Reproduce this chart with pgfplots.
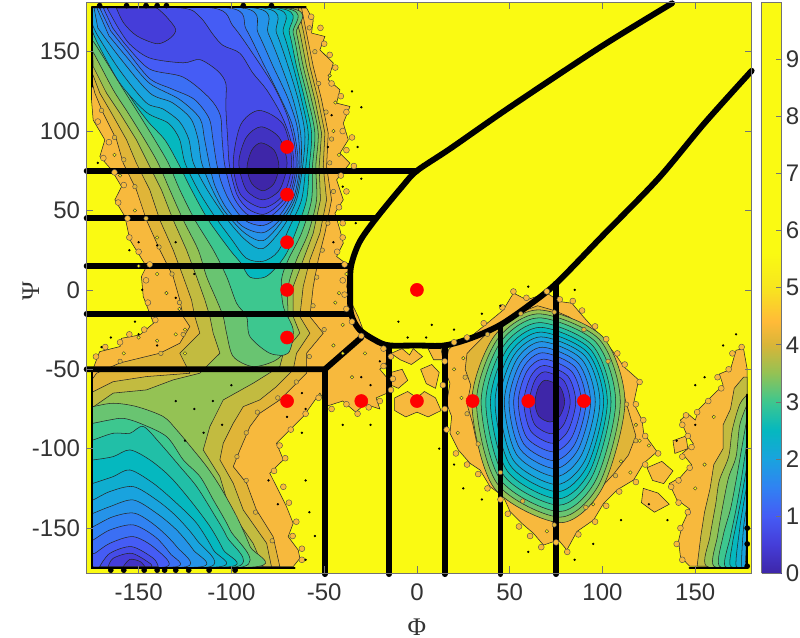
\documentclass[border=0pt]{standalone}
\usepackage{pgfplots}
\usepackage{fontspec}
\pgfplotsset{compat=1.18}
\setmainfont{Liberation Sans}
\newfontfamily\serifgreek{Liberation Serif}
\definecolor{L00}{rgb}{.2422,.1504,.6603}
\definecolor{L01}{rgb}{.255,.195,.755}
\definecolor{L02}{rgb}{.27,.24,.85}
\definecolor{L03}{rgb}{.27,.30,.91}
\definecolor{L04}{rgb}{.27,.36,.96}
\definecolor{L05}{rgb}{.23,.435,.955}
\definecolor{L06}{rgb}{.19,.51,.95}
\definecolor{L07}{rgb}{.145,.575,.91}
\definecolor{L08}{rgb}{.10,.64,.87}
\definecolor{L09}{rgb}{.06,.68,.81}
\definecolor{L10}{rgb}{.02,.72,.75}
\definecolor{L11}{rgb}{.13,.75,.655}
\definecolor{L12}{rgb}{.24,.78,.56}
\definecolor{L13}{rgb}{.41,.77,.445}
\definecolor{L14}{rgb}{.58,.76,.33}
\definecolor{L15}{rgb}{.76,.735,.25}
\definecolor{L16}{rgb}{.88,.71,.22}
\definecolor{L17}{rgb}{.97,.725,.24}
\definecolor{YY}{rgb}{.98,.98,.07}
\definecolor{axgray}{rgb}{.45,.45,.45}
\pgfplotsset{
  colormap={cb}{rgb(0pt)=(.2422,.1504,.6603); rgb(5pt)=(.27,.24,.85); rgb(10pt)=(.27,.36,.96);
    rgb(15pt)=(.19,.51,.95); rgb(20pt)=(.10,.64,.87); rgb(25pt)=(.02,.72,.75); rgb(30pt)=(.24,.78,.56);
    rgb(35pt)=(.58,.76,.33); rgb(40pt)=(.85,.71,.22); rgb(44pt)=(1,.73,.22); rgb(50pt)=(.97,.9,.12);
    rgb(56pt)=(.98,.98,.07); rgb(100pt)=(.98,.98,.07)},
  lj/.style={fill=#1,draw=black!85,line width=.4pt,sharp plot},
  ls/.style={fill=#1,draw=black!85,line width=.4pt,smooth},
  lc/.style={fill=#1,draw=black!85,line width=.4pt,smooth cycle},
  mask/.style={fill=YY,draw=none},
  thickb/.style={black,line width=4.4pt,line cap=round,line join=round},
  edgeb/.style={black,line width=1.8pt,line cap=round},
  frillA/.style={only marks,mark=*,mark size=2.2pt,mark options={fill=L17,draw=black!70,line width=.3pt}},
  frillB/.style={only marks,mark=*,mark size=1.7pt,mark options={fill=L16,draw=black!70,line width=.3pt}},
}
\begin{document}
\begin{tikzpicture}
\useasboundingbox (0,0) rectangle (600pt,477.75pt);
\begin{axis}[
  at={(65pt,48pt)},anchor=south west,scale only axis,width=498.75pt,height=427.9pt,
  xmin=-178,xmax=180.4,ymin=-178.3,ymax=181,clip=false,axis on top,
  axis background/.style={fill=YY},
  axis line style={draw=axgray,line width=.7pt},
  tick style={draw=axgray,line width=.5pt},
  major tick length=5pt,tick align=inside,
  xtick={-150,-100,-50,0,50,100,150},ytick={-150,-100,-50,0,50,100,150},
  /pgf/number format/assume math mode=true,
  tick label style={font=\fontsize{18}{20}\selectfont,text=black!80},
  xticklabel style={yshift=-4.5pt},
  yticklabel style={xshift=-1.5pt},
  xlabel={\serifgreek\fontsize{19}{22}\selectfont Φ},
  ylabel={\serifgreek\fontsize{19}{22}\selectfont Ψ},
  xlabel style={at={(axis description cs:.4967,-.0947)},anchor=center,inner sep=0pt,text=black!80},
  ylabel style={at={(axis description cs:-.0838,.494)},anchor=center,inner sep=0pt,rotate=0,text=black!80},
]
% ---- basin upper left + lower left, outer bands
\addplot[lj=L17] coordinates {(-175.4,177.5)(-59.5,177.5)(-55.9,170)(-56.8,161.7)(-49.6,159.6)(-52.3,151.2)(-45.1,142.8)(-47.8,132.3)(-41.5,126)(-43.3,117.6)(-36.1,115.5)(-39.7,105)(-37,94.5)(-41.5,86.1)(-36.1,79.8)(-43.3,69.3)(-39.7,56.7)(-44.2,48.3)(-41.5,37.8)(-39.7,29.4)(-43.3,21)(-36.1,14.7)(-37.9,2.1)(-34.3,-10.5)(-31.6,-17)(-29,-25.2)(-21.8,-31.5)(-22,-34)(-15,-36)(-16,-45)(-20,-50)(-15,-57)(-16,-65)(-22,-68)(-20,-75)(-28,-72)(-33,-77)(-40,-70)(-48,-73)(-52.3,-65)(-61.3,-79.8)(-70.3,-90.3)(-75.7,-96.6)(-72,-107)(-79.3,-115.5)(-73.9,-128)(-70.3,-136.5)(-66.7,-147)(-69.4,-155.4)(-64,-163.8)(-63.1,-169)(-66.7,-174.3)(-176.3,-174.3)(-175.4,-52.5)(-172.7,-44)(-171,-38.9)(-160,-35.7)(-159.2,-30.5)(-149.4,-28.4)(-142,-21)(-147.5,-4.2)(-148.5,8.4)(-145.8,14.7)(-154.7,31.5)(-157.4,46.2)(-162.8,56.7)(-159.2,65)(-164.6,75.6)(-170.9,84)(-168.2,94.5)(-174.5,107)(-175.4,119.7)(-175.4,128)} --cycle;
\addplot[frillA] coordinates {(-57,172)(-52,165)(-50,155)(-47,148)(-44,140)(-46,130)(-41,122)(-38,112)(-40,100)(-35,96)(-38,88)(-34,78)(-41,72)(-38,62)(-42,52)(-40,42)(-40,33)(-43,24)(-39,16)(-40,6)(-39,-3)(-38,-12)(-35,-20)(-30,-29)(-18,-37)(-14,-42)(-18,-48)(-13,-56)(-14,-63)(-20,-70)(-26,-74)(-32,-78)(-38,-72)(-46,-75)(-53,-68)(-60,-78)(-68,-88)(-74,-98)(-71,-106)(-77,-114)(-72,-124)(-69,-134)(-65,-146)(-67,-155)(-62,-163)(-62,-170)(-173,-42)(-168,-36)(-160,-33)(-155,-28)(-147,-25)(-141,-19)(-145,-8)(-146,6)(-144,16)(-150,24)(-155,33)(-156,45)(-161,55)(-158,66)(-163,74)(-169,83)(-166,93)(-172,106)};
\addplot[frillB] coordinates {(-58,165)(-55,150)(-53,130)(-49,112)(-46,95)(-47,80)(-45,62)(-48,42)(-51,25)(-54,8)(-56,-10)(-50,-25)(-58,-42)(-65,-58)(-75,-68)(-86,-77)(-92,-90)(-97,-105)(-92,-120)(-87,-140)(-78,-158)(-160,-45)(-138,-40)(-126,-28)(-128,-8)(-132,10)(-139,27)(-146,45)(-152,65)(-158,82)(-163,96)(-170,113)};
\addplot[lj=L16] coordinates {(-175.4,177.5)(-62.2,177.5)(-59.5,161.7)(-55.9,140.7)(-51.4,119.7)(-47.8,98.7)(-48.7,77.7)(-46,56.7)(-49.6,35.7)(-53.2,18.9)(-55.9,2.1)(-57.7,-16.8)(-50.5,-27.3)(-59.5,-39.9)(-59.5,-52.5)(-66.7,-60.9)(-73.9,-69.3)(-84.7,-77.7)(-90,-86.1)(-95.4,-100.8)(-99,-111.3)(-91.8,-121.8)(-86.5,-138.6)(-77.5,-155.4)(-73.9,-174.3)(-176,-174.3)(-176,-58)(-172.7,-52.5)(-160,-46)(-138.6,-39.9)(-127.8,-33.6)(-122.4,-23.1)(-126,-16.8)(-127.8,-6.3)(-131.4,8.4)(-138.6,25.2)(-145.8,44.1)(-151.2,63)(-158.3,79.8)(-161.9,94.5)(-169.1,111.3)(-173.6,123.9)(-175.4,132.3)} --cycle;
\addplot[lj=L15] coordinates {(-175.4,177.5)(-64,177.5)(-61,161.7)(-57.7,140.7)(-53.2,119.7)(-49.6,98.7)(-50.5,77.7)(-48.7,56.7)(-52.3,35.7)(-57.7,18.9)(-61.3,2.1)(-63.1,-16.8)(-57.7,-27.3)(-64.9,-39.9)(-66.7,-50.4)(-75.7,-60.9)(-84.7,-69.3)(-93.6,-73.5)(-99,-84)(-104.4,-96.6)(-106.2,-107)(-99,-121.8)(-93.6,-138.6)(-81,-159.6)(-78.4,-174.3)(-176,-174.3)(-176,-65)(-163.7,-57.8)(-145.8,-54.6)(-122.4,-52.5)(-127.8,-39.9)(-117,-27.3)(-119.7,-16.8)(-121.5,-6.3)(-126,8.4)(-131.4,25.2)(-138.6,44.1)(-144,63)(-151.2,79.8)(-156.5,94.5)(-164.6,111.3)(-170.9,123.9)(-175,136.5)} --cycle;
\addplot[lj=L14] coordinates {(-175.4,177.5)(-66.7,177.5)(-63,161.7)(-59.5,140.7)(-55,119.7)(-51.4,98.7)(-52.7,77.7)(-52,56.7)(-55.9,35.7)(-61.3,18.9)(-66.7,2.1)(-66.7,-16.8)(-63.1,-27.3)(-72,-39.9)(-73.9,-48.3)(-88.3,-58.8)(-104.4,-69.3)(-111.6,-86.1)(-115.2,-100.8)(-106.2,-117.6)(-100.8,-138.6)(-88.3,-159.6)(-82.9,-174.3)(-176,-174.3)(-176,-75)(-163.7,-65)(-145.8,-63)(-131.4,-56.7)(-117,-52.5)(-106.2,-39.9)(-109.8,-27.3)(-111.6,-16.8)(-114.3,-6.3)(-118.8,8.4)(-124.2,25.2)(-131.4,44.1)(-137.7,63)(-144.9,79.8)(-151.2,94.5)(-160.1,111.3)(-167.3,123.9)(-174.5,140.7)} --cycle;
% ---- upper left basin
\addplot[ls=L13] coordinates {(-175.5,177.5)(-69.4,177.5)(-64.9,161.7)(-61.3,140.7)(-56.8,119.7)(-53.2,98.7)(-54.5,77.7)(-54.1,56.7)(-58.6,35.7)(-64.9,18.9)(-69.4,2.1)(-69.4,-16.8)(-68.5,-33.6)(-75.7,-44)(-88.3,-48.3)(-99,-42)(-102.6,-27.3)(-104.4,-16.8)(-108,-6.3)(-113.4,8.4)(-117.9,25.2)(-126,44.1)(-133.2,63)(-139.5,79.8)(-146.7,94.5)(-155.6,111.3)(-163.7,126)(-174.2,149)(-175.5,149)} --cycle;
\addplot[ls=L12] coordinates {(-175.5,177.5)(-72,177.5)(-66.7,161.7)(-63.1,140.7)(-58.6,119.7)(-55,98.7)(-56.3,77.7)(-56.8,56.7)(-62.2,35.7)(-69.4,18.9)(-73,6.3)(-72,-10.5)(-66.7,-25.2)(-69.4,-39.9)(-79.3,-39.9)(-90,-29.4)(-91.8,-16.8)(-97.2,-8.4)(-102.6,8.4)(-109.8,25.2)(-119.7,44.1)(-127.8,63)(-134,79.8)(-141.3,94.5)(-150.2,111.3)(-159.2,128)(-173.8,155.4)(-175.5,155.4)} --cycle;
\addplot[ls=L10] coordinates {(-175.5,177.5)(-74.8,177.5)(-68.8,161.7)(-64.9,140.7)(-60.4,119.7)(-56.8,98.7)(-58,77.7)(-59.5,56.7)(-64.9,37.8)(-70.3,23)(-76,14)(-82,8)(-90,8)(-95,17)(-100.8,25.2)(-112.5,44.1)(-121.5,63)(-128.7,79.8)(-135.9,94.5)(-144.9,106)(-154.7,122)(-173.4,160)(-175.5,160)} --cycle;
\addplot[ls=L09] coordinates {(-175.5,177.5)(-78.4,177.5)(-72,161.7)(-66.7,140.7)(-62.2,119.7)(-58.6,98.7)(-59.9,77.7)(-62.2,56.7)(-68.5,39.9)(-75,24)(-83,18)(-92,20)(-100,32)(-110,48)(-118,63)(-125,80)(-128,95)(-134,105)(-146,112)(-160,130)(-172,155)(-175.5,165)} --cycle;
\addplot[ls=L08] coordinates {(-175.5,177.5)(-82.9,177.5)(-75.7,161.7)(-69.4,140.7)(-64,119.7)(-60.4,98.7)(-61.6,77.7)(-64.9,56.7)(-72,39.9)(-83,26)(-92,31)(-102,44)(-113,63)(-120.5,80)(-123,95)(-128,106)(-137,114)(-146,118)(-160,138)(-172,160)(-175.5,169)} --cycle;
\addplot[ls=L07] coordinates {(-174,177.5)(-87.4,177.5)(-80.2,161.7)(-73,140.7)(-66.7,119.7)(-62.7,98.7)(-62.5,77.7)(-65.8,57)(-73.5,42)(-83,31)(-93,36)(-104,50)(-111,65)(-116,80)(-118,95)(-122,108)(-132,118)(-144,124)(-160,146)(-172,165)} --cycle;
\addplot[ls=L06] coordinates {(-172.5,177.5)(-93.6,177.5)(-85.6,161.7)(-77.5,140.7)(-70,122)(-65,105)(-63.5,92)(-63.2,77)(-66.5,58)(-74,44)(-83,36)(-94,40)(-103,52)(-109,66)(-112,80)(-114.5,95)(-117,108)(-128,120)(-144,130)(-156,146)(-166,160)} --cycle;
\addplot[ls=L05] coordinates {(-171,177.5)(-101,177.5)(-92,164)(-83,143)(-74,122)(-67.5,105)(-64.8,90)(-64.2,77)(-67.5,60)(-74,47)(-83,40.5)(-93,44)(-101,56)(-105.5,68)(-108,80)(-110,95)(-112,108)(-120,120)(-132,126.5)(-144,133)(-156,150)(-165,163)} --cycle;
\addplot[ls=L04] coordinates {(-169,177.5)(-110,177.5)(-99,166)(-88,148)(-77,128)(-70,110)(-66,92)(-65.2,77)(-68.5,60)(-75,50)(-83,44)(-92,48)(-99,59)(-103.5,78)(-105,95)(-106,110)(-112,121)(-126,134)(-144,139)(-156,153)(-164,165)} --cycle;
\addplot[ls=L03] coordinates {(-167,177.5)(-126.7,177.5)(-117,172)(-110,161)(-104.6,154)(-95.4,149)(-88.4,136.5)(-81,126)(-73,110)(-68,94)(-66.3,77)(-69.5,61)(-76,52)(-83,47.5)(-91,51)(-97,60)(-101,78)(-102,95)(-103,115)(-103,130)(-107.5,138)(-117,145)(-126,143)(-144,146)(-155,155)(-162,167)} --cycle;
\addplot[ls=L02] coordinates {(-162,177.5)(-158,168)(-151,160)(-140,155)(-133,158.5)(-130,164)(-135,172)(-140,177.5)} --cycle;
\addplot[lc=L02] coordinates {(-67.5,80)(-72,104)(-85,113)(-95,104)(-99,80)(-95,60)(-83,51.7)(-72,60)};
\addplot[lc=L01] coordinates {(-70,80)(-74.3,96)(-84,102.7)(-92,96)(-96,80)(-92,63)(-83,56.7)(-74,63)};
\addplot[lc=L00] coordinates {(-74.4,78)(-77,88)(-84,92.6)(-89,88)(-91.6,77)(-89,67)(-83,62.4)(-77,67)};
% ---- lower left basin
\addplot[ls=L13] coordinates {(-176,-74)(-174.5,-73.5)(-163.7,-71.4)(-151.1,-73.5)(-136.7,-79.8)(-129.5,-88.2)(-120.5,-100.8)(-113.3,-111.3)(-106.1,-123.9)(-97.1,-142.8)(-89.9,-161.7)(-86.3,-174.3)(-176,-174.3)} --cycle;
\addplot[ls=L12] coordinates {(-176,-84)(-174.5,-84)(-165.5,-81.9)(-158.3,-80.9)(-149.3,-84)(-134.9,-92.4)(-125.9,-107.1)(-116.9,-117.6)(-109.7,-132.3)(-100.7,-151.2)(-93.5,-174.3)(-176,-174.3)} --cycle;
\addplot[ls=L11] coordinates {(-176,-94.5)(-174.5,-94.5)(-163.7,-90.3)(-154.7,-90.3)(-147.5,-86)(-138.5,-96.6)(-127.7,-111.3)(-118.7,-123.9)(-109.7,-140.7)(-102.5,-155.4)(-97.1,-174.3)(-176,-174.3)} --cycle;
\addplot[ls=L10] coordinates {(-176,-107)(-174.5,-107.1)(-163.7,-105)(-154.7,-100.8)(-143.9,-107.1)(-133.1,-117.6)(-122.3,-132.3)(-111.5,-149.1)(-104.3,-163.8)(-100.7,-174.3)(-176,-174.3)} --cycle;
\addplot[ls=L09] coordinates {(-176,-122)(-174.5,-121.8)(-163.7,-117.6)(-154.7,-113.4)(-142.1,-121.8)(-129.5,-134.4)(-118.7,-147)(-109.7,-163.8)(-106.1,-174.3)(-176,-174.3)} --cycle;
\addplot[ls=L08] coordinates {(-176,-132)(-174.5,-132.3)(-165.5,-127)(-152.9,-123.9)(-140.3,-132.3)(-129.5,-142.8)(-118.7,-157.5)(-111.5,-174.3)(-176,-174.3)} --cycle;
\addplot[ls=L07] coordinates {(-176,-141)(-174.5,-140.7)(-165.5,-136.5)(-152.9,-132.3)(-140.3,-140.7)(-129.5,-151.2)(-120.5,-163.8)(-116,-174.3)(-176,-174.3)} --cycle;
\addplot[ls=L06] coordinates {(-176,-149)(-174.5,-149.1)(-163.7,-142.8)(-152,-140.7)(-140.3,-149.1)(-129.5,-161.7)(-124.1,-174.3)(-176,-174.3)} --cycle;
\addplot[ls=L05] coordinates {(-176,-157.5)(-174.5,-157.5)(-165.5,-151.2)(-152.9,-148)(-141.2,-155.4)(-133.1,-165.9)(-129.5,-174.3)(-176,-174.3)} --cycle;
\addplot[ls=L04] coordinates {(-176,-166)(-173.6,-165.9)(-165.5,-159.6)(-152.9,-155.4)(-141.2,-162.7)(-134.9,-174.3)(-176,-174.3)} --cycle;
\addplot[ls=L03] coordinates {(-171,-174.3)(-165.5,-165.9)(-153.8,-161.7)(-142.1,-169)(-139.4,-174.3)} --cycle;
\addplot[ls=L02] coordinates {(-166.4,-174.3)(-163.7,-169)(-153.8,-165.9)(-143.9,-172.2)(-143,-174.3)} --cycle;
\addplot[ls=L01] coordinates {(-158.3,-174.3)(-154.7,-169.7)(-149.3,-171)(-146.6,-174.3)} --cycle;
% ---- lower centre ellipse
\addplot[lj=L17] coordinates {(17,-37.8)(15,-50.4)(17.8,-58.8)(16,-71.4)(18.7,-79.8)(17.8,-90.3)(22.3,-100.8)(28.6,-109.2)(34,-113.4)(39.4,-123.9)(46.6,-130.2)(50.2,-139.6)(56.5,-147)(62.8,-153.3)(68.2,-160.7)(76.3,-157.5)(80.8,-163.8)(86.2,-152.2)(95.2,-144.9)(100.6,-134.4)(107.8,-126)(116.8,-119.7)(122.2,-109.2)(129.4,-101.9)(122.2,-90.3)(121.3,-81.9)(116.8,-71.4)(119.5,-56.7)(111.4,-48.3)(107.8,-42)(101.5,-32.6)(95.2,-24.2)(88,-14.7)(83.5,-8.4)(77.2,-7.4)(70,-2)(59.2,-6.3)(52,-2)(46.6,-12.6)(35.8,-23)(26.8,-31.5)(19.6,-34.6)} --cycle;
\addplot[frillA] coordinates {(15,-45)(14,-60)(15,-75)(16,-88)(21,-103)(27,-110)(33,-116)(38,-125)(45,-132)(49,-141)(55,-149)(61,-155)(67,-162)(75,-159)(81,-165)(87,-154)(96,-146)(102,-136)(109,-127)(118,-121)(123,-110)(130,-103)(123,-92)(122,-82)(118,-72)(120,-58)(112,-47)(108,-40)(102,-31)(96,-23)(89,-13)(84,-7)(77,-6)(70,-1)(59,-5)(52,-1)(46,-11)(36,-21)(27,-30)(20,-33)};
\addplot[frillB] coordinates {(26,-55)(27,-78)(33,-97)(45,-115)(57,-133)(74,-148)(91,-137)(107,-117)(118,-95)(113,-72)(103,-45)(90,-25)(74,-14)(56,-15)(38,-28)};
\addplot[lj=L16] coordinates {(27,-40)(26,-50)(29,-60)(27,-72)(30,-84)(32,-95)(37,-104)(44,-113)(49,-123)(56,-131)(64,-138)(74,-147)(82,-145)(90,-138)(98,-126)(106,-116)(114,-104)(118,-92)(115,-80)(112,-68)(108,-56)(103,-44)(97,-34)(90,-24)(82,-17)(74,-13)(65,-10)(56,-14)(47,-20)(38,-27)(32,-34)} --cycle;
\addplot[lc=L14] coordinates {(112.1,-70.6)(100,-29.4)(65.4,-12.6)(41.5,-29.4)(29.6,-70.6)(41.5,-124.6)(77.4,-146.6)(100,-124.6)};
\addplot[lc=L13] coordinates {(109.6,-70.6)(98.3,-31.2)(65.6,-15.1)(43.3,-31.2)(32.1,-70.6)(43.3,-122.1)(77.1,-143.1)(98.3,-122.1)};
\addplot[lc=L12] coordinates {(107.1,-70.6)(96.5,-33)(65.8,-17.6)(45,-33)(34.6,-70.6)(45,-119.6)(76.8,-139.6)(96.5,-119.6)};
\addplot[lc=L11] coordinates {(104.6,-70.6)(94.7,-35.1)(66.1,-20.6)(46.8,-35.1)(37.1,-70.6)(46.8,-116.8)(76.5,-135.6)(94.7,-116.8)};
\addplot[lc=L10] coordinates {(102.6,-70.6)(93.3,-37.2)(66.4,-23.6)(48.6,-37.2)(39.6,-70.6)(48.6,-113.9)(76.1,-131.6)(93.3,-113.9)};
\addplot[lc=L09] coordinates {(100.6,-70.6)(91.9,-39.4)(66.6,-26.6)(50.4,-39.4)(42.1,-70.6)(50.4,-110.7)(75.7,-127.1)(91.9,-110.7)};
\addplot[lc=L08] coordinates {(98.6,-70.6)(90.5,-41.5)(66.9,-29.6)(52.1,-41.5)(44.6,-70.6)(52.1,-107.5)(75.3,-122.6)(90.5,-107.5)};
\addplot[lc=L07] coordinates {(96.1,-70.6)(88.7,-43.6)(67.2,-32.6)(53.9,-43.6)(47.1,-70.6)(53.9,-104)(74.8,-117.6)(88.7,-104)};
\addplot[lc=L06] coordinates {(93.6,-70.6)(86.9,-46.1)(67.5,-36.1)(55.7,-46.1)(49.6,-70.6)(55.7,-100.4)(74.4,-112.6)(86.9,-100.4)};
\addplot[lc=L05] coordinates {(91.1,-70.6)(85.2,-48.6)(67.8,-39.6)(57.5,-48.6)(52.1,-70.6)(57.5,-96.9)(73.9,-107.6)(85.2,-96.9)};
\addplot[lc=L04] coordinates {(88.6,-70.6)(83.4,-51.4)(68.2,-43.6)(59.2,-51.4)(54.6,-70.6)(59.2,-93)(73.4,-102)(83.4,-93)};
\addplot[lc=L03] coordinates {(85.6,-70.6)(81.3,-54.3)(68.5,-47.6)(61.4,-54.3)(57.6,-70.6)(61.4,-89)(73,-96.6)(81.3,-89)};
\addplot[lc=L02] coordinates {(82.6,-70.6)(79.1,-57.1)(68.9,-51.6)(63.5,-57.1)(60.6,-70.6)(63.5,-84.8)(72.4,-90.6)(79.1,-84.8)};
\addplot[lc=L00] coordinates {(79.6,-70.6)(77,-60.9)(69.4,-56.9)(65.6,-60.9)(63.6,-70.6)(65.6,-79.5)(71.7,-83.2)(77,-79.5)};
% ---- right edge
\addplot[lj=L17] coordinates {(176,-37)(172,-38)(169,-50)(163,-53)(165,-60)(158,-68)(152,-75)(150,-82)(146,-78)(142,-82)(145,-90)(149,-97)(143,-103)(148,-110)(142,-118)(136,-122)(140,-132)(147,-138)(143,-148)(141,-158)(142,-168)(147,-174)(178,-174)(178,-50)} --cycle;
\addplot[frillA] coordinates {(175,-36)(170,-40)(168,-50)(162,-55)(164,-62)(157,-70)(151,-77)(145,-79)(143,-85)(146,-92)(148,-99)(143,-105)(147,-112)(141,-120)(137,-124)(141,-134)(146,-140)(142,-150)(140,-160)(143,-170)};
\addplot[lj=L15] coordinates {(176,-55)(171,-62)(169,-75)(165,-85)(165,-100)(160,-110)(158,-125)(155,-140)(153,-155)(151,-174)(178,-174)(178,-55)} --cycle;
\addplot[ls=L14] coordinates {(178,-66)(174,-72)(170,-88)(168,-105)(163,-120)(161,-135)(158,-155)(156,-174)(178,-174)} --cycle;
\addplot[ls=L13] coordinates {(178,-72)(174,-85)(172,-105)(168,-118)(165,-135)(162,-155)(160,-174)(178,-174)} --cycle;
\addplot[ls=L12] coordinates {(178,-80)(175,-100)(172,-120)(169,-138)(165,-155)(163,-174)(178,-174)} --cycle;
\addplot[ls=L11] coordinates {(178,-95)(175,-118)(172,-138)(169,-155)(166,-174)(178,-174)} --cycle;
\addplot[ls=L10] coordinates {(178,-110)(175,-130)(172,-148)(170,-160)(169,-174)(178,-174)} --cycle;
\addplot[ls=L09] coordinates {(178,-122)(176,-135)(174,-150)(172,-174)(178,-174)} --cycle;
\addplot[ls=L08] coordinates {(178,-135)(176,-150)(175,-174)(178,-174)} --cycle;
\addplot[ls=L06] coordinates {(178,-150)(177,-174)(178,-174)} --cycle;
% ---- loose patches in the middle
\addplot[lj=L17] coordinates {(-14,-40)(-8,-37)(-4,-41)(-2,-37)(3,-42)(-3,-47)(-9,-44)} --cycle;
\addplot[lj=L17] coordinates {(-14,-52)(-8,-50)(-5,-57)(-10,-62)(-14,-60)} --cycle;
\addplot[lj=L17] coordinates {(2,-50)(8,-47)(12,-52)(10,-62)(5,-59)} --cycle;
\addplot[lj=L17] coordinates {(-12,-68)(-5,-64)(0,-68)(4,-64)(10,-68)(13,-76)(6,-80)(0,-77)(-6,-80)(-12,-76)} --cycle;
\addplot[lj=L17] coordinates {(6,-37)(13,-37)(14,-44)(9,-44)} --cycle;
\addplot[lj=L17] coordinates {(124,-112)(132,-108)(138,-114)(133,-122)(127,-120)} --cycle;
\addplot[lj=L17] coordinates {(122,-125)(130,-128)(136,-135)(128,-140)(121,-134)} --cycle;
\addplot[lj=L17] coordinates {(138,-95)(145,-92)(146,-100)(139,-103)} --cycle;
% holes and specks
\addplot[only marks,mark=*,mark size=1.3pt,mark options={fill=YY,draw=black!80,line width=.3pt}] coordinates {(-160,72)(-152,50)(-140,10)(-135,-2)(-128,-12)(-150,15)(-163,85)(-140,33)(-45,100)(-42,85)(-44,118)(-47,135)(-38,10)(-42,-2)(-44,-8)(-40,-22)(-150,-30)(-140,-32)(-130,-28)(-158,-40)(-125,-25)(-125,-40)(-45,-35)(-40,-40)(-28,-40)(-35,-55)(20,-50)(25,-43)(120,-95)(118,-85)(125,-98)(115,-115)(110,-108)(24,-68)(22,-90)(70,-152)(95,-135)(155,-110)(150,-125)(160,-80)};
\addplot[only marks,mark=*,mark size=.65pt,mark options={fill=black,draw=black}] coordinates {(-30,115)(-35,125)(-32,90)(-30,70)(-33,42)(-172,80)(-168,75)(-150,30)(-155,25)(-148,0)(-152,-20)(-165,-30)(-170,-36)(-60,-120)(-58,-140)(-55,-155)(-60,-170)(-62,-90)(-50,-80)(-40,-85)(-25,-85)(-15,-82)(15,-85)(12,-100)(20,-110)(25,-125)(35,-132)(45,-148)(60,-165)(85,-170)(95,-160)(110,-145)(125,-135)(135,-145)(140,-95)(150,-85)(155,-55)(150,-60)(165,-35)(172,-28)(8,-22)(20,-25)(35,-15)(45,-10)(60,2)(85,0)(-46,110)(-48,90)(-40,65)(-45,30)(-140,28)(-130,-5)(-150,-28)(-140,-35)(-30,-55)(-25,-60)(-60,-75)(-80,-120)(-75,-135)(-110,-70)(-120,-75)(-100,-60)(-130,-70)(-125,-95)(-115,-90)(-105,-85)(-85,-15)(-120,10)(-130,30)(-50,-50)(-62,-65)(-70,-80)(-20,-45)(-5,-30)(5,-30)(-10,-20)};
% yellow margins
\addplot[mask] coordinates {(-178,-178.3)(-175.7,-178.3)(-175.7,181)(-178,181)} --cycle;
\addplot[mask] coordinates {(-178,178)(180.4,178)(180.4,181)(-178,181)} --cycle;
\addplot[mask] coordinates {(-178,-178.3)(180.4,-178.3)(180.4,-174.5)(-178,-174.5)} --cycle;
\addplot[mask] coordinates {(178.2,-178.3)(180.4,-178.3)(180.4,181)(178.2,181)} --cycle;
% edge of the sampled area
\addplot[edgeb] coordinates {(-175,178)(-60,178)};
\addplot[edgeb] coordinates {(-175.2,178)(-175.2,128)};
\addplot[edgeb] coordinates {(-175.2,-50)(-175.2,-175)(-66,-175)};
\addplot[edgeb] coordinates {(178,-66)(178,-175)(147,-175)};
\addplot[only marks,mark=*,mark size=1.9pt,black] coordinates {(-171,179)(-156.5,179)(-146,179)(-140,179)(-135,179)(-93.6,179)(-78.4,179)(-165,-176.5)(-158,-176.5)(-147,-176.5)(-140,-176.5)(-136,-176.5)(-130,-176.5)(-123,-176.5)(-112,-176.5)(-98,-176.5)(178,-150)(178,-160)(178,-174)};
% region boundaries
\addplot[thickb] coordinates {(-178,75)(0,75)};
\addplot[thickb] coordinates {(-178,45)(-22,45)};
\addplot[thickb] coordinates {(-178,15)(-35.5,15)};
\addplot[thickb] coordinates {(-178,-15)(-35.5,-15)};
\addplot[thickb] coordinates {(-178,-50)(-49.6,-50)(-30,-30)};
\addplot[thickb] coordinates {(-49.6,-50)(-49.6,-179)};
\addplot[thickb] coordinates {(-15,-35)(-15,-179)};
\addplot[thickb] coordinates {(15,-35)(15,-179)};
\addplot[thickb] coordinates {(45,-22)(45,-179)};
\addplot[thickb] coordinates {(75,4)(75,-179)};
\addplot[thickb,smooth] coordinates {(137.5,180.5)(99,153)(50,115)(18,89)(0,75)(-8,65)(-22,45)(-31,30)(-35.5,15)(-36,0)(-35.5,-15)(-31,-25)(-22,-32)(-15,-35)(0,-35)(15,-35)(30,-30)(45,-22)(60,-10)(75,4)(100,34)(130,70)(155,105)(180.4,138)};
% sample points
\addplot[only marks,mark=*,mark size=4.9pt,mark options={fill=red,draw=red}] coordinates {(-70,90)(-70,60)(-70,30)(-70,0)(-70,-30)(-70,-70)(-30,-70)(0,-70)(30,-70)(60,-70)(90,-70)(0,0)};
\end{axis}
\begin{axis}[
  at={(571.3pt,48pt)},anchor=south west,scale only axis,width=14.5pt,height=427.9pt,
  view={0}{90},
  xmin=0,xmax=1,ymin=0,ymax=10,xtick=\empty,ztick=\empty,
  ytick={0,1,2,3,4,5,6,7,8,9},ytick pos=right,yticklabel pos=right,
  axis on top,colormap name=cb,point meta min=0,point meta max=10,
  axis line style={draw=axgray,line width=.7pt},
  tick style={draw=axgray,line width=.5pt},major tick length=3.5pt,tick align=inside,
  /pgf/number format/assume math mode=true,
  tick label style={font=\fontsize{18}{20}\selectfont,text=black!80},
]
\addplot3[surf,shader=interp,point meta=y,mesh/rows=2] table {
x y z
0 0 0
1 0 0
0 10 0
1 10 0
};
\end{axis}
\end{tikzpicture}
\end{document}
